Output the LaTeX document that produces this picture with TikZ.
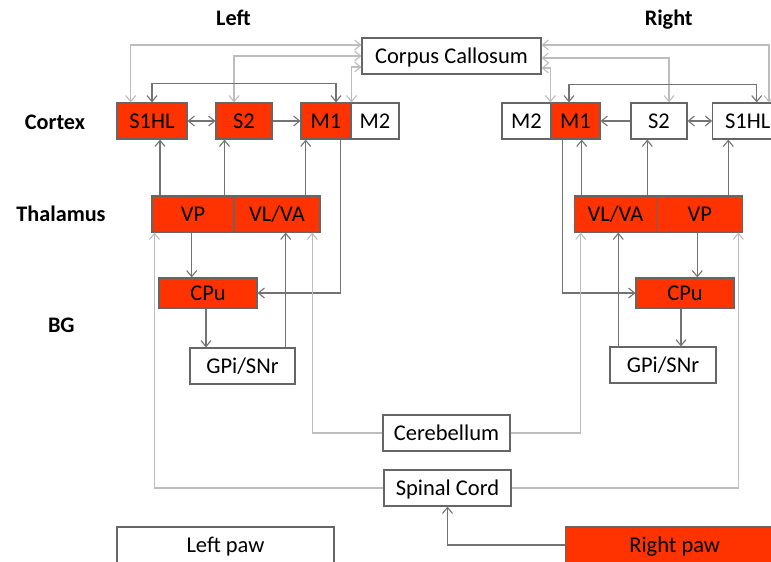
\documentclass[tikz,border=0pt]{standalone}
\usepackage{fontspec}
\setmainfont{Carlito}
\usetikzlibrary{arrows.meta}
\definecolor{redf}{HTML}{FF3300}
\definecolor{bordc}{HTML}{666666}
\definecolor{darkc}{HTML}{737373}
\definecolor{lightc}{HTML}{BDBDBD}
\tikzset{
  box/.style={draw=bordc, line width=1.2pt, fill=white, minimum height=36pt, inner sep=0pt, font=\fontsize{22.5}{27}\selectfont, text=black, text height=14.5pt, text depth=0pt},
  redbox/.style={box, fill=redf},
  lbl/.style={font=\fontsize{22.2}{27}\selectfont\bfseries, inner sep=0pt, text height=14.3pt, text depth=0pt},
  darr/.style={draw=darkc, line width=1.1pt, -{Straight Barb[length=6pt,width=10pt]}},
  dbi/.style={draw=darkc, line width=1.1pt, {Straight Barb[length=6pt,width=10pt]}-{Straight Barb[length=6pt,width=10pt]}},
  larr/.style={draw=lightc, line width=1.1pt, -{Straight Barb[length=6pt,width=10pt]}},
  lbi/.style={draw=lightc, line width=1.1pt, {Straight Barb[length=6pt,width=10pt]}-{Straight Barb[length=6pt,width=10pt]}},
}
\begin{document}
\begin{tikzpicture}[x=1pt,y=-1pt]
\fill[white] (0,0) rectangle (771,562);
\useasboundingbox (0,0) rectangle (771,562);
\clip (0,0) rectangle (771,562);

% titles and row labels
\node[lbl] (tleft) at (233.5,18) {Left};
\node[lbl] (tright) at (668.7,18) {Right};
\node[lbl] (lcortex) at (55,122) {Cortex};
\node[lbl] (lthal) at (61,214) {Thalamus};
\node[lbl] (lbg) at (61.3,325) {BG};

% boxes
\node[box, minimum width=179pt] (CC) at (451.5,56) {Corpus Callosum};
\node[redbox, minimum width=70pt] (lS1HL) at (152,121) {S1HL};
\node[redbox, minimum width=56pt] (lS2) at (244,121) {S2};
\node[redbox, minimum width=50pt] (lM1) at (326,121) {M1};
\node[box, minimum width=48pt] (lM2) at (375,121) {M2};
\node[box, minimum width=49pt] (rM2) at (526.5,121) {M2};
\node[redbox, minimum width=49pt] (rM1) at (575.5,121) {M1};
\node[box, minimum width=56pt] (rS2) at (659,121) {S2};
\node[box, minimum width=70pt] (rS1HL) at (747.7,121) {S1HL};

\node[redbox, minimum width=82pt] (lVP) at (193,214) {VP};
\node[redbox, minimum width=86pt] (lVLVA) at (277,214) {VL/VA};
\node[redbox, minimum width=82.4pt] (rVLVA) at (615.5,214) {VL/VA};
\node[redbox, minimum width=86pt] (rVP) at (699.7,214) {VP};

\node[redbox, minimum width=98pt, minimum height=30pt] (lCPu) at (208,293) {CPu};
\node[redbox, minimum width=98pt, minimum height=30pt] (rCPu) at (685,293) {CPu};
\node[box, minimum width=105pt] (lGPi) at (242.5,366) {GPi/SNr};
\node[box, minimum width=106pt] (rGPi) at (663,365) {GPi/SNr};

\node[box, minimum width=127pt] (cereb) at (446.5,433) {Cerebellum};
\node[box, minimum width=127pt] (spinal) at (447.5,488) {Spinal Cord};
\node[box, minimum width=217pt] (lpaw) at (225.5,545) {Left paw};
\node[redbox, minimum width=218pt] (rpaw) at (674.7,545) {Right paw};

% x positions of vertical connectors
\coordinate (xa) at (160,0);
\coordinate (xb) at (224.5,0);
\coordinate (xc) at (305.7,0);
\coordinate (xd) at (340.7,0);
\coordinate (xe) at (191.7,0);
\coordinate (xf) at (206,0);
\coordinate (xg) at (285.7,0);
\coordinate (xh) at (154.5,0);
\coordinate (xi) at (312.3,0);
\coordinate (rxa) at (728.3,0);
\coordinate (rxb) at (647.3,0);
\coordinate (rxc) at (581.7,0);
\coordinate (rxd) at (562.7,0);
\coordinate (rxe) at (697.3,0);
\coordinate (rxf) at (681,0);
\coordinate (rxg) at (618.3,0);
\coordinate (rxh) at (738.3,0);
\coordinate (rxi) at (580.7,0);

% corpus callosum links
\draw[lbi] ([yshift=11pt]CC.west) -| ([xshift=-21.3pt]lS1HL.north);
\draw[lbi] (CC.west) -| ([xshift=-10pt]lS2.north);
\draw[lbi] ([yshift=-11pt]CC.west) -| (lM1.north east);
\draw[lbi] ([yshift=11pt]CC.east) -| ([xshift=21.3pt]rS1HL.north);
\draw[lbi] ([yshift=-2pt]CC.east) -| ([xshift=10pt]rS2.north);
\draw[lbi] ([yshift=-12pt]CC.east) -| (rM1.north west);

% cortex links
\draw[dbi] (lS1HL.north) -- ++(0,-19) -| ([xshift=10pt]lM1.north);
\draw[dbi] ([xshift=-6.5pt]rM1.north) -- ++(0,-18) -| ([xshift=9pt]rS1HL.north);
\draw[dbi] (lS1HL.east) -- (lS2.west);
\draw[darr] (lS2.east) -- (lM1.west);
\draw[darr] (rS2.west) -- (rM1.east);
\draw[dbi] (rS2.east) -- (rS1HL.west);

% thalamus to cortex
\draw[darr] (lVP.north -| xa) -- (lS1HL.south -| xa);
\draw[darr] (lVP.north -| xb) -- (lS2.south -| xb);
\draw[darr] (lVLVA.north -| xc) -- (lM1.south -| xc);
\draw[darr] (rVP.north -| rxa) -- (rS1HL.south -| rxa);
\draw[darr] (rVLVA.north -| rxb) -- (rS2.south -| rxb);
\draw[darr] (rVLVA.north -| rxc) -- (rM1.south -| rxc);

% basal ganglia loops
\draw[darr] (lM1.south -| xd) |- (lCPu.east);
\draw[darr] (lVP.south -| xe) -- (lCPu.north -| xe);
\draw[darr] (lCPu.south -| xf) -- (lGPi.north -| xf);
\draw[darr] (lGPi.north -| xg) -- (lVLVA.south -| xg);
\draw[darr] (rM1.south -| rxd) |- (rCPu.west);
\draw[darr] (rVP.south -| rxe) -- (rCPu.north -| rxe);
\draw[darr] (rCPu.south -| rxf) -- (rGPi.north -| rxf);
\draw[darr] (rGPi.north -| rxg) -- (rVLVA.south -| rxg);

% cerebellum and spinal cord
\draw[larr] (cereb.west) -| (lVLVA.south -| xi);
\draw[larr] (cereb.east) -| (rVLVA.south -| rxi);
\draw[larr] (spinal.west) -| (lVP.south -| xh);
\draw[larr] (spinal.east) -| (rVP.south -| rxh);
\draw[darr] (rpaw.west) -| (spinal.south);
\end{tikzpicture}
\end{document}
